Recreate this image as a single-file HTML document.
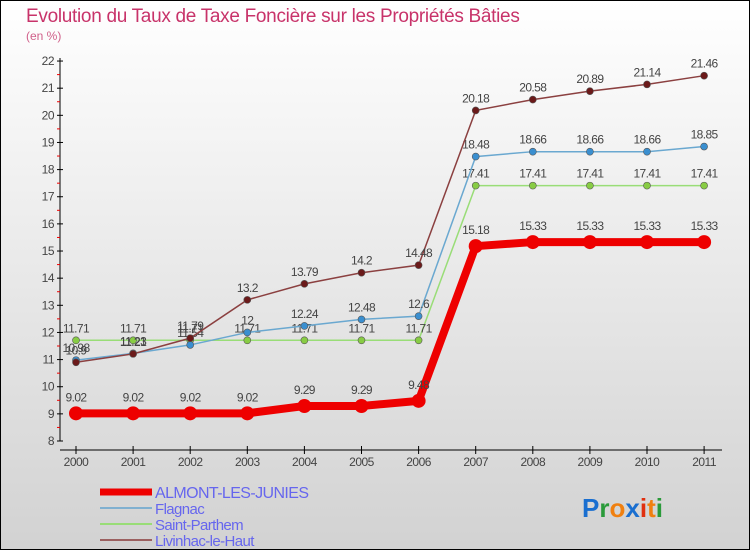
<!DOCTYPE html>
<html><head><meta charset="utf-8"><style>
body{margin:0}
#c{width:750px;height:550px;position:relative;box-sizing:border-box;border:1px solid #000;background:linear-gradient(#fff,#d2d2d2);font-family:"Liberation Sans",sans-serif;overflow:hidden}
</style></head><body>
<div id="c">
<svg id="s" width="750" height="550" style="position:absolute;left:-1px;top:-1px">
<text x="26" y="22" font-size="19" fill="#c8336a" letter-spacing="-0.3">Evolution du Taux de Taxe Foncière sur les Propriétés Bâties</text>
<text x="26" y="40" font-size="12" fill="#d0608a">(en %)</text>
</svg>
</div>
<script>
const years=[2000,2001,2002,2003,2004,2005,2006,2007,2008,2009,2010,2011];
const almont=[9.02,9.02,9.02,9.02,9.29,9.29,9.48,15.18,15.33,15.33,15.33,15.33];
const flagnac=[10.98,11.23,11.54,12,12.24,12.48,12.6,18.48,18.66,18.66,18.66,18.85];
const saint=[11.71,11.71,11.71,11.71,11.71,11.71,11.71,17.41,17.41,17.41,17.41,17.41];
const livinhac=[10.90,11.21,11.79,13.2,13.79,14.2,14.48,20.18,20.58,20.89,21.14,21.46];
const yTicks=[8,9,10,11,12,13,14,15,16,17,18,19,20,21,22];
const NS="http://www.w3.org/2000/svg",s=document.getElementById('s');
const X=i=>76+i*57.1, Y=v=>441-(v-8)*27.14;
function el(t,a,txt){const e=document.createElementNS(NS,t);for(const k in a)e.setAttribute(k,a[k]);if(txt!==undefined)e.textContent=txt;s.appendChild(e);return e;}
let e=el('line',{x1:60,y1:58,x2:60,y2:441,stroke:'#000'});


e=el('line',{x1:60,y1:450,x2:722,y2:450,stroke:'#000'});


yTicks.forEach(v=>{
 el('line',{x1:57,x2:63,y1:Y(v),y2:Y(v),stroke:'#000'});
 if(v<22)el('line',{x1:57,x2:60,y1:Y(v+0.5),y2:Y(v+0.5),stroke:'#e00'});
 const t=el('text',{x:54,y:Y(v)+4,'text-anchor':'end','font-size':12,'letter-spacing':-0.5,fill:'#444'},v);
 
 
});
years.forEach((y,i)=>{
 el('line',{x1:X(i),x2:X(i),y1:446,y2:454,stroke:'#000'});
 const t=el('text',{x:X(i),y:466,'text-anchor':'middle','font-size':12,'letter-spacing':-0.5,fill:'#444'},y);
 
 
});
function series(d,col,fill,w,r,name){
 const p=el('polyline',{points:d.map((v,i)=>X(i)+','+Y(v)).join(' '),fill:'none',stroke:col,'stroke-width':w});
 
 
 d.forEach((v,i)=>{
  const c=el('circle',{cx:X(i),cy:Y(v),r:r,fill:fill,stroke:'#555','stroke-width':r>5?0:0.6});
  
  
  const t=el('text',{x:X(i),y:Y(v)-(r>5?12:8),'text-anchor':'middle','font-size':12,'letter-spacing':-0.6,fill:'#444'},v);
  
  
 });
}
series(saint,'#99dd77','#88cc44',1.5,3.5,'saint-parthem');
series(flagnac,'#6aa8d0','#3a8fd0',1.5,3.5,'flagnac');
series(livinhac,'#8b4040','#6b1a1a',1.5,3.5,'livinhac');
series(almont,'#ee0000','#ee0000',8,7,'almont');
const leg=[['ALMONT-LES-JUNIES','#ee0000',7,16],['Flagnac','#80b0d0',2,15],['Saint-Parthem','#99dd77',2,15],['Livinhac-le-Haut','#9b6060',2,15]];
leg.forEach((l,i)=>{
 const y=492+i*16;
 el('line',{x1:100,x2:152,y1:y,y2:y,stroke:l[1],'stroke-width':l[2]});
 const t=el('text',{x:155,y:y+6,'font-size':l[3],'letter-spacing':-0.6,fill:'#6666ee'},l[0]);
 
 
});
const lg=el('text',{x:582,y:517,'font-size':26,'font-weight':'bold'});


[['P','#1a6fd0'],['r','#2a9a3a'],['o','#f08010'],['x','#1a6fd0'],['i','#e03010'],['t','#f08010'],['i','#2a9a3a']].forEach(c=>{const sp=document.createElementNS(NS,'tspan');sp.setAttribute('fill',c[1]);sp.textContent=c[0];lg.appendChild(sp);});
</script>
</body></html>
